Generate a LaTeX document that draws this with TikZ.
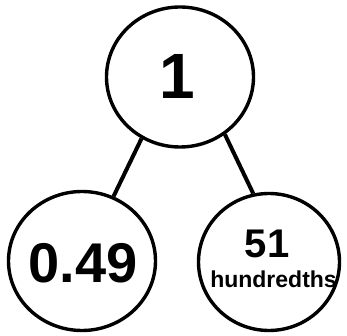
\documentclass[tikz,border=0pt]{standalone}
\usepackage{fontspec}
\setmainfont{Liberation Sans}
\usetikzlibrary{shapes.geometric}
\tikzset{
  bubble/.style={draw=black, line width=3.4pt, ellipse, inner sep=0pt, fill=white},
  link/.style={draw=black, line width=4pt},
  txt/.style={inner sep=0pt, anchor=base, text=black, font=\bfseries}
}
\begin{document}
\begin{tikzpicture}[x=1pt,y=-1pt]
\useasboundingbox[fill=white] (0,0) rectangle (347,336);
\node[bubble, minimum width=147pt, minimum height=140pt] (top) at (180,77) {};
\node[bubble, minimum width=147pt, minimum height=139pt] (left) at (82,261) {};
\node[bubble, minimum width=141pt, minimum height=137pt] (right) at (269,262) {};
\draw[link] (top.238) -- (left.64);
\draw[link] (top.308) -- (right.103);
\node[txt] (t1) at (177,99) {\fontsize{64}{64}\selectfont 1};
\node[txt] (t049) at (83,282) {\fontsize{56}{56}\selectfont 0.49};
\node[txt] (t51) at (267,257) {\fontsize{40}{40}\selectfont 51};
\node[txt] (th) at (273.5,287) {\fontsize{23}{23}\selectfont hundredths};
\end{tikzpicture}
\end{document}
